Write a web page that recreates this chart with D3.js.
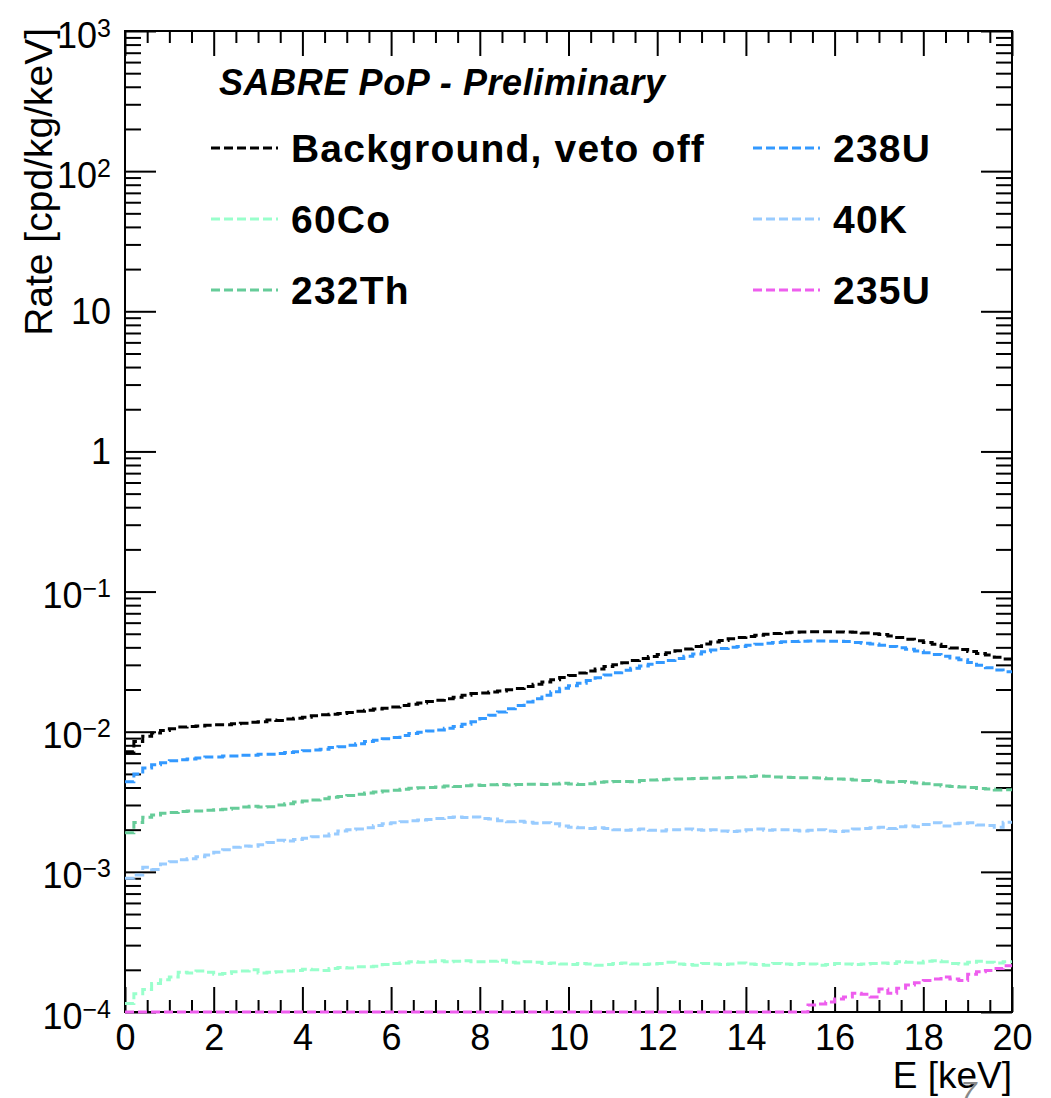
<!DOCTYPE html>
<html>
<head>
<meta charset="utf-8">
<script src="https://cdn.jsdelivr.net/npm/d3@7"></script>
<style>
body { margin: 0; background: #fff; }
svg { display: block; }
text { font-family: "Liberation Sans", Arial, Helvetica, sans-serif; }
</style>
</head>
<body>
<svg id="chart" width="1051" height="1098"></svg>
<script>
// histogram binning: 100 bins of 0.2 keV from 0 to 20 keV
var binLow = d3.range(0, 20, 0.2);

var bgVetoOff = [
    0.0072, 0.0085, 0.0093, 0.0098, 0.0102, 0.0105, 0.0108, 0.0109, 0.0110, 0.0111,
    0.0112, 0.0112, 0.0114, 0.0115, 0.0117, 0.0118, 0.0121, 0.0120, 0.0123, 0.0125,
    0.0127, 0.0130, 0.0132, 0.0133, 0.0135, 0.0137, 0.0140, 0.0142, 0.0145, 0.0147,
    0.0150, 0.0154, 0.0157, 0.0160, 0.0164, 0.0168, 0.0172, 0.0176, 0.0182, 0.0187,
    0.0189, 0.0192, 0.0195, 0.0199, 0.0203, 0.0210, 0.0218, 0.0226, 0.0235, 0.0244,
    0.0252, 0.0262, 0.0271, 0.0280, 0.0292, 0.0301, 0.0311, 0.0322, 0.0333, 0.0344,
    0.0355, 0.0366, 0.0378, 0.0390, 0.0406, 0.0422, 0.0436, 0.0448, 0.0460, 0.0470,
    0.0478, 0.0487, 0.0496, 0.0503, 0.0508, 0.0512, 0.0514, 0.0516, 0.0516, 0.0517,
    0.0515, 0.0514, 0.0512, 0.0506, 0.0500, 0.0494, 0.0482, 0.0470, 0.0456, 0.0446,
    0.0434, 0.0420, 0.0406, 0.0396, 0.0386, 0.0374, 0.0362, 0.0352, 0.0340, 0.0330
];

var u238 = [
    0.0044, 0.0050, 0.0055, 0.0058, 0.0060, 0.0062, 0.0063, 0.0064, 0.0065, 0.0066,
    0.0066, 0.0067, 0.0067, 0.0068, 0.0068, 0.0069, 0.0069, 0.0070, 0.0071, 0.0072,
    0.0073, 0.0074, 0.0075, 0.0077, 0.0078, 0.0080, 0.0082, 0.0085, 0.0087, 0.0089,
    0.0091, 0.0094, 0.0097, 0.0099, 0.0101, 0.0103, 0.0106, 0.0109, 0.0113, 0.0118,
    0.0124, 0.0131, 0.0138, 0.0146, 0.0154, 0.0163, 0.0172, 0.0182, 0.0193, 0.0204,
    0.0213, 0.0222, 0.0232, 0.0243, 0.0254, 0.0264, 0.0274, 0.0284, 0.0294, 0.0303,
    0.0312, 0.0322, 0.0333, 0.0345, 0.0358, 0.0372, 0.0383, 0.0392, 0.0400, 0.0406,
    0.0414, 0.0421, 0.0428, 0.0434, 0.0438, 0.0441, 0.0443, 0.0444, 0.0444, 0.0443,
    0.0442, 0.0440, 0.0434, 0.0428, 0.0422, 0.0414, 0.0406, 0.0398, 0.0388, 0.0376,
    0.0366, 0.0356, 0.0346, 0.0336, 0.0326, 0.0312, 0.0298, 0.0286, 0.0276, 0.0268
];

var th232 = [
    0.00190, 0.00225, 0.00245, 0.00255, 0.00262, 0.00265, 0.00270, 0.00272, 0.00272, 0.00275,
    0.00277, 0.00280, 0.00284, 0.00290, 0.00294, 0.00290, 0.00292, 0.00300, 0.00306, 0.00315,
    0.00320, 0.00326, 0.00332, 0.00340, 0.00345, 0.00350, 0.00358, 0.00365, 0.00372, 0.00378,
    0.00382, 0.00388, 0.00395, 0.00398, 0.00400, 0.00404, 0.00410, 0.00406, 0.00412, 0.00416,
    0.00414, 0.00418, 0.00420, 0.00416, 0.00420, 0.00422, 0.00422, 0.00420, 0.00424, 0.00428,
    0.00424, 0.00420, 0.00426, 0.00436, 0.00440, 0.00442, 0.00442, 0.00440, 0.00448, 0.00452,
    0.00454, 0.00458, 0.00460, 0.00462, 0.00464, 0.00466, 0.00468, 0.00470, 0.00472, 0.00476,
    0.00480, 0.00484, 0.00482, 0.00476, 0.00474, 0.00472, 0.00470, 0.00470, 0.00468, 0.00462,
    0.00460, 0.00458, 0.00452, 0.00448, 0.00446, 0.00440, 0.00436, 0.00442, 0.00436, 0.00430,
    0.00426, 0.00418, 0.00410, 0.00406, 0.00404, 0.00400, 0.00394, 0.00390, 0.00384, 0.00385
];

var k40 = [
    0.00090, 0.00095, 0.00108, 0.00104, 0.00114, 0.00118, 0.00122, 0.00124, 0.00128, 0.00132,
    0.00138, 0.00144, 0.00150, 0.00153, 0.00152, 0.00156, 0.00162, 0.00168, 0.00166, 0.00170,
    0.00174, 0.00178, 0.00180, 0.00186, 0.00196, 0.00200, 0.00202, 0.00206, 0.00214, 0.00220,
    0.00224, 0.00228, 0.00232, 0.00234, 0.00236, 0.00240, 0.00244, 0.00246, 0.00244, 0.00246,
    0.00240, 0.00238, 0.00232, 0.00228, 0.00230, 0.00226, 0.00222, 0.00224, 0.00220, 0.00212,
    0.00208, 0.00206, 0.00204, 0.00206, 0.00204, 0.00200, 0.00198, 0.00200, 0.00202, 0.00198,
    0.00196, 0.00200, 0.00200, 0.00202, 0.00200, 0.00198, 0.00200, 0.00196, 0.00194, 0.00196,
    0.00200, 0.00202, 0.00198, 0.00200, 0.00200, 0.00198, 0.00196, 0.00198, 0.00200, 0.00196,
    0.00194, 0.00196, 0.00202, 0.00204, 0.00206, 0.00208, 0.00204, 0.00210, 0.00212, 0.00210,
    0.00218, 0.00224, 0.00212, 0.00220, 0.00222, 0.00224, 0.00216, 0.00214, 0.00208, 0.00226
];

var co60 = [
    0.000115, 0.000135, 0.000145, 0.000160, 0.000170, 0.000178, 0.000192, 0.000190, 0.000196, 0.000192,
    0.000186, 0.000188, 0.000194, 0.000196, 0.000200, 0.000190, 0.000192, 0.000194, 0.000196, 0.000198,
    0.000202, 0.000200, 0.000198, 0.000204, 0.000208, 0.000206, 0.000210, 0.000210, 0.000212, 0.000218,
    0.000222, 0.000224, 0.000228, 0.000226, 0.000228, 0.000232, 0.000228, 0.000230, 0.000232, 0.000228,
    0.000228, 0.000230, 0.000234, 0.000226, 0.000224, 0.000228, 0.000226, 0.000222, 0.000224, 0.000220,
    0.000218, 0.000222, 0.000220, 0.000216, 0.000218, 0.000222, 0.000224, 0.000220, 0.000218, 0.000220,
    0.000222, 0.000226, 0.000220, 0.000218, 0.000216, 0.000222, 0.000220, 0.000218, 0.000220, 0.000224,
    0.000220, 0.000218, 0.000216, 0.000222, 0.000220, 0.000218, 0.000222, 0.000220, 0.000216, 0.000218,
    0.000222, 0.000220, 0.000218, 0.000220, 0.000222, 0.000224, 0.000222, 0.000228, 0.000226, 0.000224,
    0.000230, 0.000232, 0.000228, 0.000222, 0.000220, 0.000226, 0.000230, 0.000226, 0.000224, 0.000228
];

// empty bins (below the frame) are 0
var u235 = [
    0, 0, 0, 0, 0, 0, 0, 0, 0, 0,
    0, 0, 0, 0, 0, 0, 0, 0, 0, 0,
    0, 0, 0, 0, 0, 0, 0, 0, 0, 0,
    0, 0, 0, 0, 0, 0, 0, 0, 0, 0,
    0, 0, 0, 0, 0, 0, 0, 0, 0, 0,
    0, 0, 0, 0, 0, 0, 0, 0, 0, 0,
    0, 0, 0, 0, 0, 0, 0, 0, 0, 0,
    0, 0, 0, 0, 0, 0, 0, 0.000112, 0.000114, 0.000118,
    0.000124, 0.000128, 0.000136, 0.000134, 0.000128, 0.000146, 0.000136, 0.000148, 0.000156, 0.000162,
    0.000168, 0.000172, 0.000178, 0.000172, 0.000168, 0.000186, 0.000194, 0.000198, 0.000204, 0.000214
];

var seriesNames = ["Background, veto off", "60Co", "232Th", "238U", "40K", "235U"];
var seriesData = [bgVetoOff, co60, th232, u238, k40, u235];
var seriesColors = ["#000000", "#99ffcc", "#66cc99", "#3399ff", "#99ccff", "#ee5eee"];

var xMajor = [0, 2, 4, 6, 8, 10, 12, 14, 16, 18, 20];
var yTickValues = [1e-4, 1e-3, 1e-2, 1e-1, 1, 10, 100, 1000];
var yTickBase = ["10", "10", "10", "10", "1", "10", "10", "10"];
var yTickSup = ["\u22124", "\u22123", "\u22122", "\u22121", "", "", "2", "3"];

var frame = {left: 125, top: 31, right: 1012, bottom: 1012};

var svg = d3.select("#chart");

var x = d3.scaleLinear()
    .domain([0, 20])
    .range([frame.left, frame.right]);

var y = d3.scaleLog()
    .domain([1e-4, 1e3])
    .range([frame.bottom, frame.top]);

var xMinor = d3.range(0, 20.01, 0.5).filter(function (d) {
    return xMajor.indexOf(d) < 0;
});
var yMinor = y.ticks().filter(function (d) {
    return yTickValues.indexOf(d) < 0;
});

function styleAxis(g) {
    g.select(".domain").remove();
    g.selectAll(".tick line").attr("stroke", "#000").attr("stroke-width", 2);
}

// minor ticks
svg.append("g")
    .attr("transform", "translate(" + frame.left + ",0)")
    .call(d3.axisLeft(y).tickValues(yMinor).tickSize(-16).tickFormat(""))
    .call(styleAxis);
svg.append("g")
    .attr("transform", "translate(" + frame.right + ",0)")
    .call(d3.axisRight(y).tickValues(yMinor).tickSize(-16).tickFormat(""))
    .call(styleAxis);
svg.append("g")
    .attr("transform", "translate(0," + frame.bottom + ")")
    .call(d3.axisBottom(x).tickValues(xMinor).tickSize(-12).tickFormat(""))
    .call(styleAxis);
svg.append("g")
    .attr("transform", "translate(0," + frame.top + ")")
    .call(d3.axisTop(x).tickValues(xMinor).tickSize(-12).tickFormat(""))
    .call(styleAxis);

// major ticks + labels
var yAxisG = svg.append("g")
    .attr("transform", "translate(" + frame.left + ",0)")
    .call(d3.axisLeft(y).tickValues(yTickValues).tickSize(-31).tickPadding(14))
    .call(styleAxis);
yAxisG.attr("font-size", 36).attr("font-family", null);
yAxisG.selectAll(".tick text")
    .attr("fill", "#000")
    .each(function (d) {
        var i = yTickValues.indexOf(d);
        var t = d3.select(this).text(null);
        t.append("tspan").text(yTickBase[i]);
        if (yTickSup[i]) {
            t.attr("dy", 16);
            t.append("tspan")
                .attr("dy", -11)
                .attr("font-size", 25)
                .text(yTickSup[i]);
        } else {
            t.attr("dy", 12);
        }
    });

svg.append("g")
    .attr("transform", "translate(" + frame.right + ",0)")
    .call(d3.axisRight(y).tickValues(yTickValues).tickSize(-31).tickFormat(""))
    .call(styleAxis);

var xAxisG = svg.append("g")
    .attr("transform", "translate(0," + frame.bottom + ")")
    .call(d3.axisBottom(x).tickValues(xMajor).tickSize(-25).tickPadding(12).tickFormat(d3.format("d")))
    .call(styleAxis);
xAxisG.attr("font-size", 36).attr("font-family", null);
xAxisG.selectAll(".tick text").attr("fill", "#000");

svg.append("g")
    .attr("transform", "translate(0," + frame.top + ")")
    .call(d3.axisTop(x).tickValues(xMajor).tickSize(-25).tickFormat(""))
    .call(styleAxis);

// frame
svg.append("rect")
    .attr("x", frame.left)
    .attr("y", frame.top)
    .attr("width", frame.right - frame.left)
    .attr("height", frame.bottom - frame.top)
    .attr("fill", "none")
    .attr("stroke", "#000")
    .attr("stroke-width", 2);

// histograms as dashed step lines
var line = d3.line()
    .curve(d3.curveStepAfter)
    .x(function (d) {
        return x(d[0]);
    })
    .y(function (d) {
        return y(Math.max(d[1], 1e-4));
    });

var drawOrder = [0, 3, 2, 4, 1, 5];
drawOrder.forEach(function (s) {
    var vals = seriesData[s];
    var pts = binLow.map(function (e, i) {
        return [e, vals[i]];
    });
    pts.push([20, vals[vals.length - 1]]);
    svg.append("path")
        .attr("d", line(pts))
        .attr("fill", "none")
        .attr("stroke", seriesColors[s])
        .attr("stroke-width", 3)
        .attr("stroke-dasharray", "9,4");
});

// axis titles
svg.append("text")
    .attr("x", frame.right)
    .attr("y", 1088)
    .attr("text-anchor", "end")
    .attr("font-size", 37)
    .text("E [keV]");

svg.append("text")
    .attr("transform", "translate(52,28) rotate(-90)")
    .attr("text-anchor", "end")
    .attr("font-size", 39)
    .text("Rate [cpd/kg/keV]");

// header
svg.append("text")
    .attr("x", 219)
    .attr("y", 95)
    .attr("font-size", 36)
    .attr("font-weight", "bold")
    .attr("font-style", "italic")
    .attr("letter-spacing", 0.6)
    .text("SABRE PoP - Preliminary");

// legend
var legendCols = [{sx: 211, tx: 291}, {sx: 753, tx: 833}];
seriesNames.forEach(function (name, i) {
    var col = legendCols[Math.floor(i / 3)];
    var base = 162 + (i % 3) * 71;
    svg.append("line")
        .attr("x1", col.sx)
        .attr("x2", col.sx + 67)
        .attr("y1", base - 14)
        .attr("y2", base - 14)
        .attr("stroke", seriesColors[i])
        .attr("stroke-width", 3)
        .attr("stroke-dasharray", "9,4");
    svg.append("text")
        .attr("x", col.tx)
        .attr("y", base)
        .attr("font-size", 39)
        .attr("font-weight", "bold")
        .attr("letter-spacing", 1.2)
        .text(name);
});

// slide page number peeking in at the bottom
svg.append("text")
    .attr("x", 960)
    .attr("y", 1102)
    .attr("font-size", 30)
    .attr("fill", "#888888")
    .attr("font-style", "italic")
    .text("7");
</script>
</body>
</html>
